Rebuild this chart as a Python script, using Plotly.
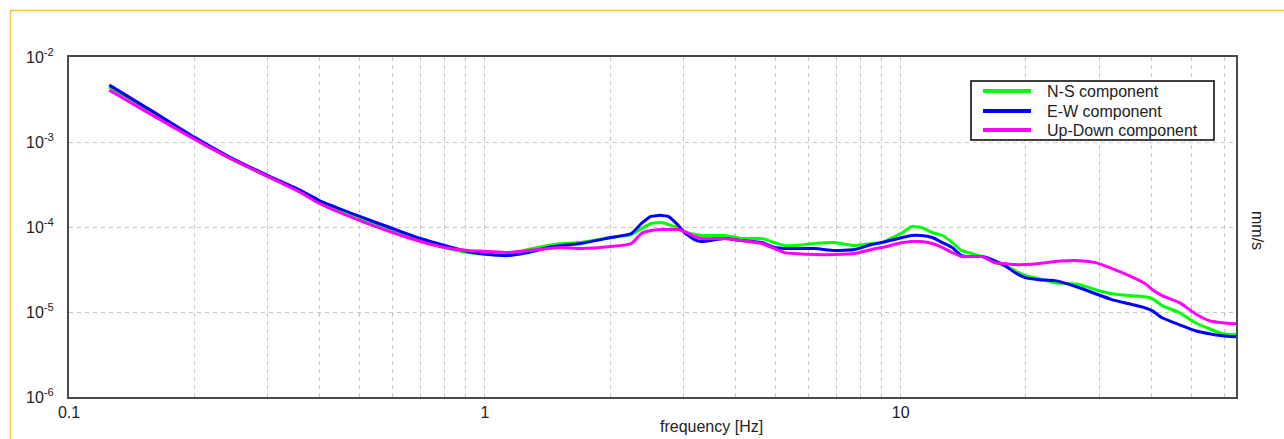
import plotly.graph_objects as go

# Frequency axis of the spectra [Hz]
freq_hz = [0.125, 0.157, 0.20, 0.244, 0.30, 0.36, 0.40, 0.50, 0.60, 0.70,
           0.80, 0.91, 1.02, 1.14, 1.27, 1.42, 1.53, 1.70, 2.01, 2.25,
           2.38, 2.51, 2.66, 2.76, 2.92, 3.02, 3.19, 3.32, 3.77, 4.14,
           4.63, 4.97, 5.25, 5.55, 6.21, 6.93, 7.75, 8.51, 9.0, 10.1,
           10.6, 11.2, 11.9, 12.6, 13.3, 14.0, 14.8, 15.7, 16.8, 17.8,
           18.8, 19.9, 21.5, 23.5, 26.9, 29.4, 32.2, 35.4, 38.7, 40.3,
           42.5, 46.8, 51.1, 55.2, 59.4, 64.0]

# Velocity amplitude spectra [mm/s]
ns_component = [4.43e-3, 2.31e-3, 1.11e-3, 6.43e-4, 3.94e-4, 2.62e-4, 1.95e-4, 1.26e-4, 9.09e-5, 6.93e-5,
                5.73e-5, 5.00e-5, 4.74e-5, 4.74e-5, 5.43e-5, 6.05e-5, 6.39e-5, 6.56e-5, 7.52e-5, 8.15e-5,
                9.60e-5, 1.10e-4, 1.13e-4, 1.07e-4, 9.86e-5, 8.85e-5, 8.15e-5, 7.94e-5, 7.94e-5, 7.32e-5,
                7.32e-5, 6.56e-5, 6.05e-5, 6.05e-5, 6.39e-5, 6.56e-5, 6.05e-5, 6.39e-5, 6.56e-5, 8.61e-5,
                1.01e-4, 9.86e-5, 8.61e-5, 7.94e-5, 6.56e-5, 5.28e-5, 4.87e-5, 4.49e-5, 3.81e-5, 3.51e-5,
                3.07e-5, 2.68e-5, 2.47e-5, 2.21e-5, 2.10e-5, 1.83e-5, 1.64e-5, 1.56e-5, 1.51e-5, 1.43e-5,
                1.19e-5, 9.80e-6, 7.47e-6, 6.35e-6, 5.54e-6, 5.39e-6]

ew_component = [4.67e-3, 2.37e-3, 1.14e-3, 6.61e-4, 4.05e-4, 2.70e-4, 2.05e-4, 1.33e-4, 9.60e-5, 7.32e-5,
                6.05e-5, 5.14e-5, 4.74e-5, 4.61e-5, 5.00e-5, 5.73e-5, 6.05e-5, 6.39e-5, 7.52e-5, 8.38e-5,
                1.10e-4, 1.33e-4, 1.37e-4, 1.33e-4, 1.04e-4, 8.61e-5, 7.12e-5, 6.74e-5, 7.32e-5, 6.93e-5,
                6.56e-5, 5.73e-5, 5.58e-5, 5.58e-5, 5.58e-5, 5.28e-5, 5.43e-5, 6.22e-5, 6.56e-5, 7.52e-5,
                7.94e-5, 7.94e-5, 7.52e-5, 6.56e-5, 5.73e-5, 4.61e-5, 4.49e-5, 4.49e-5, 4.02e-5, 3.51e-5,
                2.91e-5, 2.54e-5, 2.40e-5, 2.34e-5, 1.93e-5, 1.64e-5, 1.40e-5, 1.25e-5, 1.12e-5, 1.03e-5,
                8.55e-6, 7.07e-6, 6.01e-6, 5.54e-6, 5.25e-6, 5.11e-6]

ud_component = [4.08e-3, 2.13e-3, 1.08e-3, 6.43e-4, 3.94e-4, 2.55e-4, 1.89e-4, 1.19e-4, 8.61e-5, 6.74e-5,
                5.73e-5, 5.28e-5, 5.14e-5, 5.00e-5, 5.28e-5, 5.58e-5, 5.73e-5, 5.58e-5, 5.89e-5, 6.39e-5,
                8.38e-5, 9.09e-5, 9.34e-5, 9.34e-5, 9.34e-5, 8.85e-5, 7.73e-5, 7.32e-5, 7.32e-5, 6.93e-5,
                6.39e-5, 5.58e-5, 5.00e-5, 4.87e-5, 4.74e-5, 4.74e-5, 4.87e-5, 5.43e-5, 5.73e-5, 6.56e-5,
                6.74e-5, 6.74e-5, 6.39e-5, 5.73e-5, 5.00e-5, 4.49e-5, 4.49e-5, 4.49e-5, 3.81e-5, 3.71e-5,
                3.61e-5, 3.61e-5, 3.71e-5, 3.92e-5, 4.02e-5, 3.81e-5, 3.24e-5, 2.68e-5, 2.15e-5, 1.83e-5,
                1.56e-5, 1.29e-5, 9.54e-6, 7.89e-6, 7.47e-6, 7.27e-6]

series_names = ["N-S component", "E-W component", "Up-Down component"]
series_colors = ["#00ff00", "#0000ff", "#ff00ff"]

# Axis ticks: labelled decades, plus 2..9 grid positions on x
x_decades = [0.1, 1, 10]
x_ticktext = ["0.1", "1", "10"]
x_minor = [0.2, 0.3, 0.4, 0.5, 0.6, 0.7, 0.8, 0.9,
           2, 3, 4, 5, 6, 7, 8, 9,
           20, 30, 40, 50, 60]
y_decades = [1e-6, 1e-5, 1e-4, 1e-3, 1e-2]
y_ticktext = ["10<sup>-6</sup>", "10<sup>-5</sup>", "10<sup>-4</sup>",
              "10<sup>-3</sup>", "10<sup>-2</sup>"]

FONT = "Liberation Sans, Arial, sans-serif"
TEXT_COLOR = "#222222"
GRID_COLOR = "#c4c4c4"
GRID_DASH = "4px,4px"

fig = go.Figure()
for name, color, values in zip(series_names, series_colors,
                               [ns_component, ew_component, ud_component]):
    fig.add_trace(go.Scatter(x=freq_hz, y=values, mode="lines", name=name,
                             line=dict(color=color, width=3, shape="spline",
                                       smoothing=0.5)))

grid = dict(showgrid=True, gridcolor=GRID_COLOR, gridwidth=1, griddash=GRID_DASH,
            showline=True, linecolor="#4a4a4a", linewidth=2, mirror=True,
            zeroline=False, ticks="")

fig.update_xaxes(type="log", range=[-1, 1.80618], tickmode="array",
                 tickvals=x_decades, ticktext=x_ticktext,
                 minor=dict(tickmode="array", tickvals=x_minor, ticks="",
                            showgrid=True, gridcolor=GRID_COLOR, gridwidth=1,
                            griddash=GRID_DASH),
                 tickfont=dict(family=FONT, size=16, color=TEXT_COLOR), **grid)
fig.update_yaxes(type="log", range=[-6, -2], tickmode="array",
                 tickvals=y_decades, ticktext=y_ticktext, ticklabelstandoff=10,
                 tickfont=dict(family=FONT, size=16, color=TEXT_COLOR), **grid)

# Margins that place the plot frame inside the panel
L, R, T, B = 69, 48, 57, 42
W, H = 1284, 439
pw, ph = W - L - R, H - T - B

def px_x(px):
    return (px - L) / pw

def px_y(py):
    return (H - B - py) / ph

# Outer panel frame (top and left edges)
fig.add_shape(type="path", xref="paper", yref="paper",
              path=f"M {px_x(10.5)},{px_y(H)} L {px_x(10.5)},{px_y(10.5)} L {px_x(W)},{px_y(10.5)}",
              line=dict(color="#f6c549", width=1.5))

# Boxed legend in the upper right of the plot
legend_left, legend_top, legend_right, legend_bottom = 971, 81, 1214, 140
row_y = [91, 111, 130]
fig.add_shape(type="rect", xref="paper", yref="paper",
              x0=px_x(legend_left), x1=px_x(legend_right),
              y0=px_y(legend_bottom), y1=px_y(legend_top),
              fillcolor="white", line=dict(color="#000000", width=1.5), layer="above")
for name, color, ry in zip(series_names, series_colors, row_y):
    fig.add_shape(type="line", xref="paper", yref="paper",
                  x0=px_x(983), x1=px_x(1031), y0=px_y(ry), y1=px_y(ry),
                  line=dict(color=color, width=4), layer="above")
    fig.add_annotation(text=name, xref="paper", yref="paper",
                       x=px_x(1045), y=px_y(ry), showarrow=False,
                       xanchor="left", yanchor="middle",
                       font=dict(family=FONT, size=16, color=TEXT_COLOR))

fig.add_annotation(text="frequency [Hz]", xref="paper", yref="paper",
                   x=px_x(711), y=px_y(426), showarrow=False,
                   xanchor="center", yanchor="middle",
                   font=dict(family=FONT, size=16, color=TEXT_COLOR))
fig.add_annotation(text="mm/s", xref="paper", yref="paper",
                   x=px_x(1258), y=px_y(231), showarrow=False, textangle=90,
                   xanchor="center", yanchor="middle",
                   font=dict(family=FONT, size=16, color=TEXT_COLOR))

fig.update_layout(
    width=W, height=H,
    margin=dict(l=L, r=R, t=T, b=B),
    paper_bgcolor="white", plot_bgcolor="white",
    font=dict(family=FONT, size=16, color=TEXT_COLOR),
    showlegend=False,
)

fig.write_html("out.html")
